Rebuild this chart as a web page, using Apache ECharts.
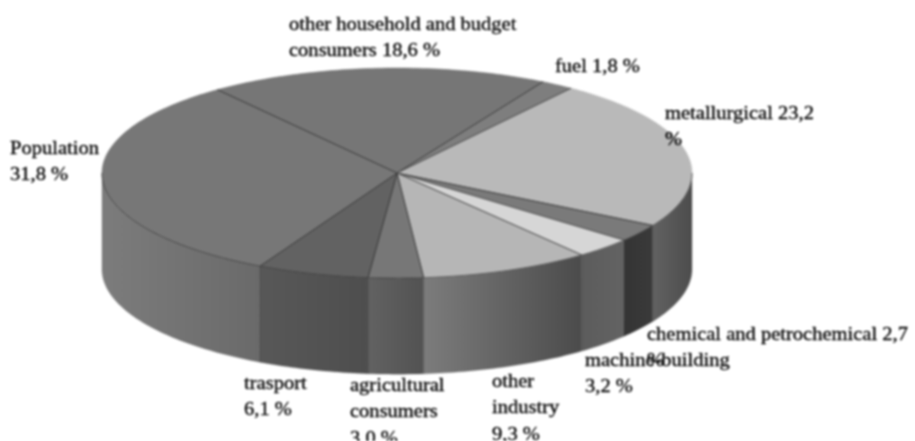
<!DOCTYPE html>
<html><head><meta charset="utf-8">
<script src="https://cdn.jsdelivr.net/npm/echarts@6/dist/echarts.min.js"></script>
<style>html,body{margin:0;padding:0;background:#fff}#c{width:915px;height:441px}#c canvas{filter:blur(.9px)}</style>
</head><body><div id="c"></div>
<script>
const categories = ['other household and budget consumers','fuel','metallurgical','chemical and petrochemical','machine-building','other industry','agricultural consumers','trasport','Population'];
const values = [18.6,1.8,23.2,2.7,3.2,9.3,3.0,6.1,31.8];
const labelTexts = ['other household and budget\nconsumers 18,6 %','fuel 1,8 %','metallurgical 23,2\n%','chemical and petrochemical 2,7\n%','machine-building\n3,2 %','other\nindustry\n9,3 %','agricultural\nconsumers\n3,0 %','trasport\n6,1 %','Population\n31,8 %'];

const topColors = ['#767676','#7e7e7e','#b9b9b9','#7a7a7a','#d6d6d6','#b6b6b6','#777777','#626262','#777777'];
const sideStops = [['#666','#666'],['#666','#666'],['#626262','#4c4c4c'],['#343434','#3a3a3a'],['#5c5c5c','#636363'],['#7c7c7c','#4b4b4b'],['#626262','#525252'],['#585858','#4e4e4e'],['#7c7c7c','#6a6a6a']];
const labelAnchors = [[289,25],[555,67],[665,114],[647,335],[585,361],[492,382],[350,386],[244,384],[10,149]];
const startAngle = -37.5, depth = 0.914, lineGap = 26.5;

const total = values.reduce((a,b)=>a+b,0);
const bounds = []; let acc = startAngle;
values.forEach(v=>{bounds.push([acc,acc+v/total*360]);acc+=v/total*360;});
const rad = d=>d*Math.PI/180;
function arc(api,a,b,drop){const p=[];const n=Math.max(2,Math.ceil(Math.abs(b-a)));
  for(let i=0;i<=n;i++){const t=rad(a+(b-a)*i/n);p.push(api.coord([Math.sin(t),Math.cos(t)-drop]));}return p;}
function renderTop(params,api){const i=params.dataIndex,[a,b]=bounds[i];
  const rim=arc(api,a,b,0),c=api.coord([0,0]);
  const kids=[{type:'polygon',shape:{points:[c].concat(rim)},style:{fill:topColors[i],stroke:topColors[i],lineWidth:.5}},
    {type:'polyline',shape:{points:[rim[0],c,rim[rim.length-1]]},style:{fill:null,stroke:'rgba(45,45,45,.8)',lineWidth:.9}}];
  const s=Math.max(a,90),e=Math.min(b,270);
  if(e>s)kids.push({type:'polyline',shape:{points:arc(api,s,e,0)},style:{fill:null,stroke:'rgba(45,45,45,.7)',lineWidth:.9}});
  return {type:'group',children:kids};}
function renderSide(params,api){const i=params.dataIndex;const [a,b]=bounds[i];
  const s=Math.max(a,90),e=Math.min(b,270);
  if(e<=s)return {type:'group',children:[]};
  return {type:'polygon',shape:{points:arc(api,s,e,0).concat(arc(api,s,e,depth).reverse())},
    style:{fill:new echarts.graphic.LinearGradient(0,0,1,0,[{offset:0,color:sideStops[i][0]},{offset:1,color:sideStops[i][1]}]),
    stroke:'rgba(50,50,50,.35)',lineWidth:.6}};}
const rows = values.map((v,i)=>({name:categories[i],value:[0,0,v]}));
const chart = echarts.init(document.getElementById('c'),null,{renderer:'canvas'});
chart.setOption({animation:false,
  grid:{left:102,width:590,top:68,height:315.2},
  xAxis:{type:'value',min:-1,max:1,show:false},
  yAxis:{type:'value',min:-2,max:1,show:false},
  series:[
    {type:'custom',renderItem:renderSide,data:rows,clip:false,z:1,silent:true},
    {type:'custom',renderItem:renderTop,data:rows,clip:false,z:2,silent:true}
  ],
  graphic:labelTexts.map((t,i)=>({type:'text',z:10,x:labelAnchors[i][0],y:labelAnchors[i][1]-lineGap/2,scaleX:1.14,
    style:{text:t,fill:'#000',stroke:'#000',lineWidth:.3,font:'18px "Liberation Serif"',lineHeight:lineGap,verticalAlign:'top',align:'left'}}))
});
</script></body></html>
